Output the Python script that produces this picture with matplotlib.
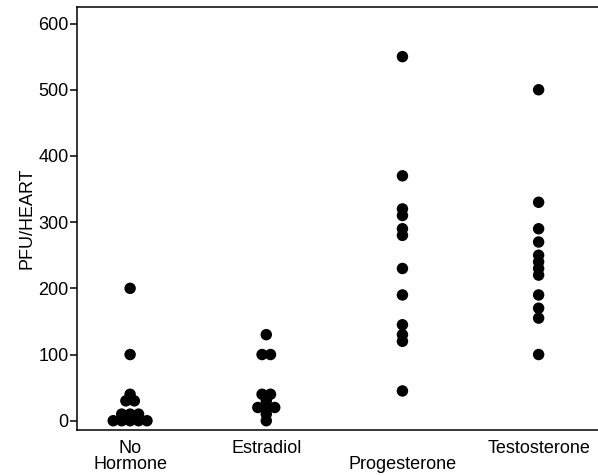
import numpy as np
import matplotlib
matplotlib.use('Agg')
import matplotlib.pyplot as plt

plt.rcParams['font.family'] = ['Liberation Sans', 'DejaVu Sans']

groups = ['No\nHormone', 'Estradiol', '\nProgesterone', 'Testosterone']
no_hormone = [200, 100, 40, 30, 30, 10, 10, 10, 0, 0, 0, 0, 0]
estradiol = [130, 100, 100, 40, 40, 30, 20, 20, 20, 10, 0]
progesterone = [550, 370, 320, 310, 290, 280, 230, 190, 145, 130, 120, 45]
testosterone = [500, 330, 290, 270, 250, 240, 230, 220, 190, 170, 155, 100]
series = [no_hormone, estradiol, progesterone, testosterone]

fig = plt.figure(figsize=(5.98, 4.76), dpi=100)
ax = fig.add_axes([77 / 598, 46 / 476, 1.0 - 77 / 598 + 0.01, 423 / 476])

spread = 0.062
for i, vals in enumerate(series):
    vals = np.array(vals)
    xs, ys = [], []
    for v in np.unique(vals):
        n = np.sum(vals == v)
        offs = (np.arange(n) - (n - 1) / 2) * spread
        xs.extend(i + offs)
        ys.extend([v] * n)
    ax.scatter(xs, ys, s=68, color='black', edgecolors='none', zorder=3)

ax.set_xlim(-0.39, 3.48)
ax.set_ylim(-14, 625)
ax.set_yticks([0, 100, 200, 300, 400, 500, 600])
ax.set_xticks(range(4))
ax.set_xticklabels(groups, fontsize=13, linespacing=0.95)
ax.tick_params(axis='x', length=0, pad=7)
ax.tick_params(axis='y', direction='out', length=5, width=1.1, labelsize=13, pad=1)
ax.spines['right'].set_visible(False)
for s in ['left', 'top', 'bottom']:
    ax.spines[s].set_linewidth(1.1)
ax.set_ylabel('PFU/HEART', fontsize=13, labelpad=2)

fig.savefig('out.png', dpi=100)
